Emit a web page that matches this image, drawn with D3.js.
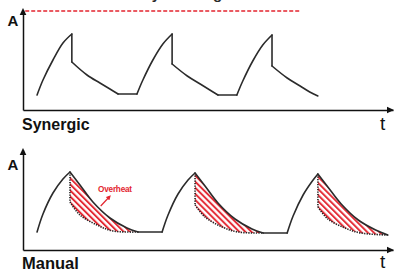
<!DOCTYPE html>
<html><head><meta charset="utf-8">
<script src="https://cdn.jsdelivr.net/npm/d3@7"></script>
<style>html,body{margin:0;padding:0;background:#fff}svg{display:block}</style>
</head><body>
<script>
// ---- data (t, A) ----
const limitA = 99;                 // red dashed limit line level
const limitSpan = [0.6, 74.9];     // t extent of the limit line

// Synergic
const synergicRise = [
  [[3.8,15],[5.4,30],[8.1,50],[10.8,67],[13.2,76]],
  [[30.8,16],[32.4,30],[35.1,50],[37.8,66],[40.3,76]],
  [[57.8,15],[59.4,29],[62.1,49],[64.8,65],[67.3,75]]
];
const synergicDrop = [
  [[13.2,76],[13.2,48]],
  [[40.3,76],[40.3,46]],
  [[67.3,75],[67.3,44]]
];
const synergicDecay = [
  [[13.2,48],[17.3,35],[20.8,27],[23.5,21],[25.7,16]],
  [[40.3,46],[44.4,34],[47.9,26],[50.5,20],[52.7,15]],
  [[67.3,44],[71.4,32],[74.9,24],[77.5,18],[79.7,14]]
];
const synergicFlat = [
  [[25.7,16],[30.8,16]],
  [[52.7,15],[57.8,15]]
];

// Manual
const manualRise = [
  [[3.8,18],[5.4,36],[8.1,57],[10.8,71],[12.7,78]],
  [[37.6,18],[39.2,35],[41.9,56],[44.6,70],[46.5,77]],
  [[71.4,17],[73.0,34],[75.7,55],[78.2,69],[79.7,76]]
];
const manualDecay = [
  [[12.7,78],[15.4,65],[18.9,48],[23.5,32],[28.1,22],[31.1,18]],
  [[46.5,77],[49.2,64],[52.7,47],[57.3,31],[61.9,21],[64.9,17]],
  [[79.7,76],[82.4,63],[86.0,46],[90.6,30],[95.3,20],[98.6,15]]
];
const manualFlat = [
  [[31.1,18],[37.6,18]],
  [[64.9,17],[71.4,17]]
];
const manualDropBottom = [48, 45, 43];   // A level after the (virtual) synergic drop
const manualLower = [
  [[12.7,48],[15.4,35],[20.0,25],[24.3,19],[31.1,18]],
  [[46.5,45],[49.2,33],[53.8,23],[58.1,18],[64.9,17]],
  [[79.7,43],[82.4,31],[87.0,22],[91.3,17],[98.6,15]]
];
const overheatArrow = [[21.0,44],[23.3,53]];

const labels = { title:"Safety Welding", yLabel:"A", xLabel:"t", top:"Synergic", bottom:"Manual", note:"Overheat" };

// ---- drawing ----
const W = 395, H = 270;
const svg = d3.select("body").append("svg").attr("width", W).attr("height", H)
  .style("font-family", "'Liberation Sans', Arial, sans-serif");
svg.append("rect").attr("width", W).attr("height", H).attr("fill", "#fff");

const RED = "#e3252f", INK = "#2b2b2b";

const defs = svg.append("defs");
const pat = defs.append("pattern").attr("id", "hatch").attr("patternUnits", "userSpaceOnUse")
  .attr("width", 4.3).attr("height", 4.3).attr("patternTransform", "rotate(-45)");
pat.append("line").attr("x1", 1).attr("y1", 0).attr("x2", 1).attr("y2", 4.3)
  .attr("stroke", RED).attr("stroke-width", 1.9);
defs.append("marker").attr("id", "ah").attr("viewBox", "0 0 10 10").attr("refX", 5).attr("refY", 5)
  .attr("markerWidth", 4).attr("markerHeight", 4).attr("orient", "auto")
  .append("path").attr("d", "M0,0L10,5L0,10Z").attr("fill", RED);

const x = d3.scaleLinear().domain([0, 100]).range([23, 393]);
const yTop = d3.scaleLinear().domain([0, 100]).range([110, 10]);
const yBot = d3.scaleLinear().domain([0, 100]).range([250, 150]);

// partially visible title at very top (cut off in the reference too)
svg.append("text").attr("x", 115).attr("y", -0.6).attr("font-size", 15).attr("font-weight", 700)
  .attr("fill", INK).text(labels.title);

function axes(y, labelY, tY) {
  const g = svg.append("g");
  const ax = d3.axisBottom(x).tickValues([]).tickSizeOuter(0);
  g.append("g").attr("transform", `translate(0,${y(0)})`).call(ax)
    .call(s => s.select(".domain").attr("stroke", "#111").attr("stroke-width", 1.5));
  const ay = d3.axisLeft(y).tickValues([]).tickSizeOuter(0);
  g.append("g").attr("transform", `translate(${x(0)},0)`).call(ay)
    .call(s => s.select(".domain").attr("stroke", "#111").attr("stroke-width", 1.5));
  const tipY = y(100) - 2, ox = x(0), oy = y(0), tipX = x(100) + 1;
  g.append("path").attr("d", `M${ox},${tipY}L${ox-3.3},${tipY+7}L${ox+3.3},${tipY+7}Z`).attr("fill", "#111");
  g.append("path").attr("d", `M${tipX},${oy}L${tipX-7},${oy-3.3}L${tipX-7},${oy+3.3}Z`).attr("fill", "#111");
  g.append("text").attr("x", 7.5).attr("y", labelY).attr("font-size", 15).attr("font-weight", 700)
    .attr("fill", "#111").text(labels.yLabel);
  g.append("text").attr("x", 380).attr("y", tY).attr("font-size", 19)
    .attr("fill", "#111").text(labels.xLabel);
}

axes(yTop, 26, 130);
axes(yBot, 170, 267.5);

svg.append("text").attr("x", 22).attr("y", 129.5).attr("font-size", 16).attr("font-weight", 700)
  .attr("fill", "#111").text(labels.top);
svg.append("text").attr("x", 22).attr("y", 268.5).attr("font-size", 16.5).attr("font-weight", 700)
  .attr("fill", "#111").text(labels.bottom);

// red limit line
svg.append("line").attr("x1", x(limitSpan[0])).attr("x2", x(limitSpan[1]))
  .attr("y1", yTop(limitA)).attr("y2", yTop(limitA))
  .attr("stroke", RED).attr("stroke-width", 1.5).attr("stroke-dasharray", "4,2");

function curveGen(y) { return d3.line().x(d => x(d[0])).y(d => y(d[1])).curve(d3.curveCatmullRom.alpha(0.5)); }
function linGen(y) { return d3.line().x(d => x(d[0])).y(d => y(d[1])); }

function drawSet(y, sets, curved) {
  const gen = curved ? curveGen(y) : linGen(y);
  sets.forEach(pts => {
    svg.append("path").attr("d", gen(pts)).attr("fill", "none")
      .attr("stroke", INK).attr("stroke-width", 1.6).attr("stroke-linecap", "round").attr("stroke-linejoin", "round");
  });
}

// Synergic
drawSet(yTop, synergicRise, true);
drawSet(yTop, synergicDrop, false);
drawSet(yTop, synergicDecay, true);
drawSet(yTop, synergicFlat, false);

// Manual: hatched overheat areas
const cb = curveGen(yBot);
manualDecay.forEach((up, i) => {
  const low = manualLower[i].slice().reverse();
  const d = cb(up) + cb(low).replace(/^M/, "L") + "Z";
  svg.append("path").attr("d", d).attr("fill", "url(#hatch)").attr("stroke", "none");
});
// dotted synergic reference inside manual
manualLower.forEach((pts, i) => {
  const peak = manualDecay[i][0];
  const drop = [[peak[0], peak[1]], [peak[0], manualDropBottom[i]]];
  [linGen(yBot)(drop), cb(pts)].forEach(d =>
    svg.append("path").attr("d", d).attr("fill", "none").attr("stroke", "#222")
      .attr("stroke-width", 1.6).attr("stroke-dasharray", "1.3,1.2"));
});
drawSet(yBot, manualRise, true);
drawSet(yBot, manualDecay, true);
drawSet(yBot, manualFlat, false);

// Overheat note
svg.append("line").attr("x1", x(overheatArrow[0][0])).attr("y1", yBot(overheatArrow[0][1]))
  .attr("x2", x(overheatArrow[1][0])).attr("y2", yBot(overheatArrow[1][1]))
  .attr("stroke", RED).attr("stroke-width", 1.2).attr("marker-end", "url(#ah)");
svg.append("text").attr("x", 98).attr("y", 192).attr("font-size", 8.2).attr("font-weight", 700)
  .attr("fill", RED).attr("letter-spacing", -0.2).text(labels.note);
</script>
</body></html>
